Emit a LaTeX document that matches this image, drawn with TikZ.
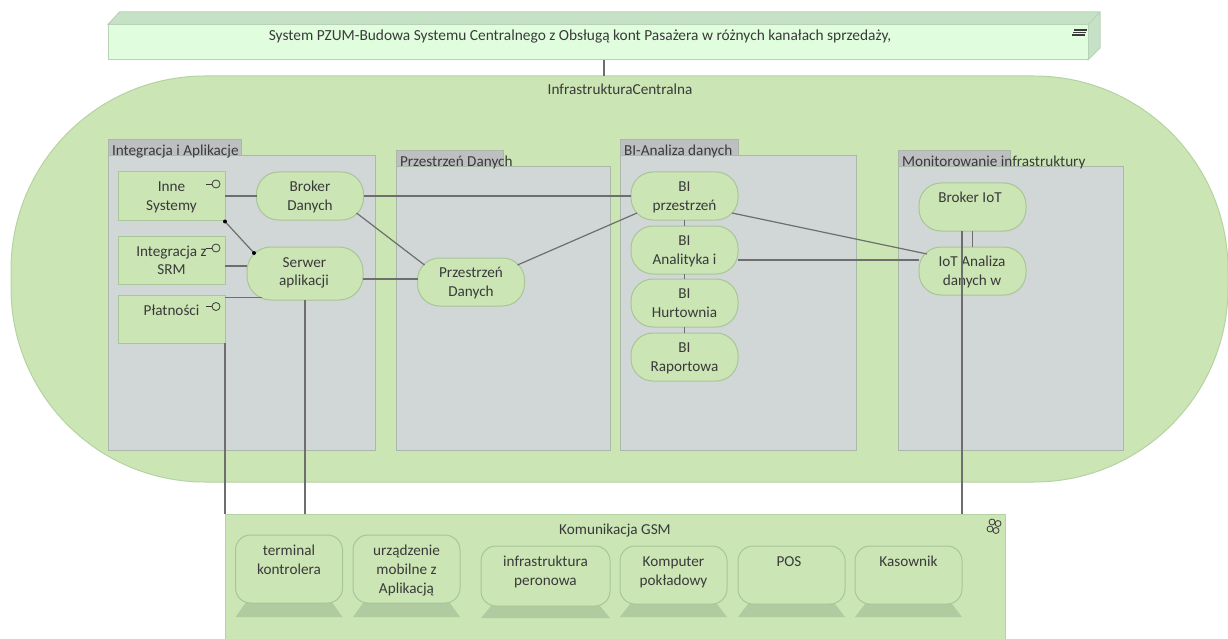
\documentclass[tikz,border=0pt]{standalone}
\usepackage{fontspec}
\setmainfont{Carlito}
\definecolor{pillfill}{HTML}{CBE5B5}
\definecolor{pilledge}{HTML}{B5D3A2}
\definecolor{nodeedge}{HTML}{A8C698}
\definecolor{groupfill}{HTML}{D1D6D6}
\definecolor{groupedge}{HTML}{A9B8A9}
\definecolor{tabfill}{HTML}{BDBFC0}
\definecolor{sysfill}{HTML}{E0FEDE}
\definecolor{sysface}{HTML}{C5E2C6}
\definecolor{sysedge}{HTML}{B7D2B8}
\definecolor{basefill}{HTML}{B1CBA0}
\definecolor{wire}{HTML}{6E6E6E}
\definecolor{ink}{HTML}{3A3A3A}
\tikzset{
  x=1pt,y=-1pt,
  every node/.style={font=\fontsize{15.2}{18}\selectfont,text=ink,align=center,inner sep=0pt,outer sep=0pt},
  boxnode/.style={draw=nodeedge,line width=1pt,fill=pillfill,rectangle,minimum width=107pt,minimum height=48pt},
  pillnode/.style={boxnode,rounded corners=22pt},
  devnode/.style={draw=nodeedge,line width=1pt,fill=pillfill,rectangle,rounded corners=15pt},
  wirel/.style={draw=wire,line width=1.2pt},
  groupbody/.style={draw=groupedge,line width=1pt,fill=groupfill},
  grouptab/.style={draw=groupedge,line width=1pt,fill=tabfill},
  lolly/.style={draw=ink,line width=.8pt},
}
\begin{document}
\begin{tikzpicture}
\useasboundingbox (0,0) rectangle (1228,639);
% system box
\fill[sysface,draw=sysedge,line width=1pt] (108,24.5) -- (119.5,12) -- (1100,12) -- (1100,48) -- (1088,60) -- (1088,24.5) -- cycle;
\draw[sysedge,line width=1pt] (1088,24.5) -- (1100,12);
\node[draw=sysedge,line width=1pt,fill=sysfill,minimum width=980pt,minimum height=35.5pt,anchor=north west] (sys) at (108,24.5) {};
\node[anchor=base,font=\fontsize{15.4}{18}\selectfont] (systxt) at (580,41) {System PZUM-Budowa Systemu Centralnego z Obsługą kont Pasażera w różnych kanałach sprzedaży,};
% infrastructure pill
\filldraw[fill=pillfill,draw=pilledge,line width=1pt,rounded corners=194pt] (11,76) rectangle (1228,482);
\coordinate (pilltop) at (604,76);
\node[anchor=base] (infratxt) at (620,95) {InfrastrukturaCentralna};
% groups
\filldraw[grouptab] (108,140) rectangle (241,156);
\filldraw[groupbody] (108,156) rectangle (375,450);
\node[anchor=base west] (g1) at (112,156) {Integracja i Aplikacje};
\filldraw[grouptab] (396,151) rectangle (503,167);
\filldraw[groupbody] (396,167) rectangle (610,450);
\node[anchor=base west] (g2) at (400,167) {Przestrzeń Danych};
\filldraw[grouptab] (620,140) rectangle (738,156);
\filldraw[groupbody] (620,156) rectangle (856,450);
\node[anchor=base west] (g3) at (624,156) {BI-Analiza danych};
\filldraw[grouptab] (898,151) rectangle (1010,167);
\filldraw[groupbody] (898,167) rectangle (1123,450);
\node[anchor=base west] (g4) at (902,167) {Monitorowanie infrastruktury};
% GSM
\node[draw=pilledge,line width=1pt,fill=pillfill,minimum width=780pt,minimum height=130pt,anchor=north west] (gsm) at (225,514) {};
\node[anchor=base] (gsmtxt) at (615,534) {Komunikacja GSM};
% nodes
\node[boxnode] (inne) at (171.5,196) {};
\node[boxnode] (srm) at (171.5,260) {};
\node[boxnode] (plat) at (171.5,319) {};
\node[pillnode] (broker) at (310,196) {};
\node[pillnode,minimum width=116pt,minimum height=53pt,rounded corners=24pt] (serwer) at (305,273.5) {};
\node[pillnode] (prz) at (471,282) {};
\node[pillnode] (bi1) at (684.5,196) {};
\node[pillnode] (bi2) at (684.5,250) {};
\node[pillnode] (bi3) at (684.5,303) {};
\node[pillnode] (bi4) at (684.5,357) {};
\node[pillnode] (biot) at (972.5,207) {};
\node[pillnode] (iota) at (972.5,271) {};
% labels
\node[anchor=base] at (171.5,192) {Inne};
\node[anchor=base] at (171.5,211) {Systemy};
\node[anchor=base] at (171.5,256) {Integracja z};
\node[anchor=base] at (171.5,274) {SRM};
\node[anchor=base] at (171.5,315) {Płatności};
\node[anchor=base] at (310,192) {Broker};
\node[anchor=base] at (310,211) {Danych};
\node[anchor=base] at (304.5,267) {Serwer};
\node[anchor=base] at (304,285) {aplikacji};
\node[anchor=base] at (471,277) {Przestrzeń};
\node[anchor=base] at (471,296) {Danych};
\node[anchor=base] at (684.5,192) {BI};
\node[anchor=base] at (684.5,211) {przestrzeń};
\node[anchor=base] at (684.5,245) {BI};
\node[anchor=base] at (684.5,264) {Analityka i};
\node[anchor=base] at (684.5,298) {BI};
\node[anchor=base] at (684.5,317) {Hurtownia};
\node[anchor=base] at (684.5,352) {BI};
\node[anchor=base] at (684.5,371) {Raportowa};
\node[anchor=base] at (970,202) {Broker IoT};
\node[anchor=base] at (972,266) {IoT Analiza};
\node[anchor=base] at (972,285) {danych w};
% lollipops
\foreach \yy in {184,248,306.5}{
  \draw[lolly] (206,\yy) -- (212,\yy);
  \draw[lolly,fill=pillfill] (216,\yy) circle[radius=4];
}
% devices
\foreach \nm/\xa/\xb/\ya/\yb/\yc in {t1/235.5/342.5/535/603/617,t2/353/460/535/603/617,t3/481/610/546/606/618,t4/620/727/546/604/617,t5/738/845/546/604/617,t6/855/962/546/604/617}{
  \fill[basefill] (\xa,\yc) -- (\xa+10,\yb) -- (\xb-10,\yb) -- (\xb,\yc) -- cycle;
  \node[devnode,minimum width={\xb-\xa},minimum height={\yb-\ya}] (\nm) at ({(\xa+\xb)/2},{(\ya+\yb)/2}) {};
}
\node[anchor=base] at (289,555) {terminal};
\node[anchor=base] at (289,574) {kontrolera};
\node[anchor=base] at (406.5,555) {urządzenie};
\node[anchor=base] at (406.5,574) {mobilne z};
\node[anchor=base] at (406.5,593) {Aplikacją};
\node[anchor=base] at (545.5,566) {infrastruktura};
\node[anchor=base] at (545.5,585) {peronowa};
\node[anchor=base] at (673.5,566) {Komputer};
\node[anchor=base] at (673.5,585) {pokładowy};
\node[anchor=base] at (789,566) {POS};
\node[anchor=base] at (908.5,566) {Kasownik};
% icons
\foreach \yy/\xx in {30/1081,32.5/1080,35/1079}{
  \draw[ink,line width=1.5pt] (\xx-7,\yy) -- (\xx+6,\yy);
}
\foreach \cx/\cy in {992/522,998/523.5,990/529,996/530.5}{
  \draw[ink,line width=.8pt] (\cx,\cy) circle[radius=3];
}
% connectors
\draw[wirel] (sys.south -| pilltop) -- (pilltop);
\draw[wirel] (inne.east) -- (broker.west);
\draw[wirel] (broker.east) -- (bi1.west);
\draw[wirel] ([shift={(-7,-7)}]broker.south east) -- ([shift={(7,7)}]prz.north west);
\draw[wirel] ([shift={(-7,7)}]prz.north east) -- ([shift={(6,-7)}]bi1.south west);
\draw[wirel] ([shift={(0,1.5)}]inne.south east) -- ([shift={(7,6)}]serwer.north west);
\fill[black] ([shift={(0,1.5)}]inne.south east) circle[radius=2];
\fill[black] ([shift={(7,6)}]serwer.north west) circle[radius=2];
\draw[wirel] (srm.east |- 0,266) -- (serwer.west |- 0,266);
\draw[wirel] ([shift={(0,2.5)}]plat.north east) -- ([shift={(15,-2.5)}]serwer.south west);
\draw[wirel] (serwer.east |- 0,279) -- (prz.west |- 0,279);
\draw[wirel] (serwer.south) -- (gsm.north -| serwer.south);
\draw[wirel] (plat.south east) -- (gsm.north west);
\draw[wirel] ([shift={(-6,-7)}]bi1.south east) -- ([shift={(8,7)}]iota.north west);
\draw[wirel] (bi2.east |- 0,260) -- (iota.west |- 0,260);
\draw[wirel] (bi1.south) -- (bi2.north);
\draw[wirel] (bi2.south) -- (bi3.north);
\draw[wirel] (bi3.south) -- (bi4.north);
\draw[wirel] (biot.south) -- (iota.north);
\draw[wirel] ([xshift=-10.5]biot.south) -- ([xshift=-10.5]biot.south |- gsm.north);
\end{tikzpicture}
\end{document}
